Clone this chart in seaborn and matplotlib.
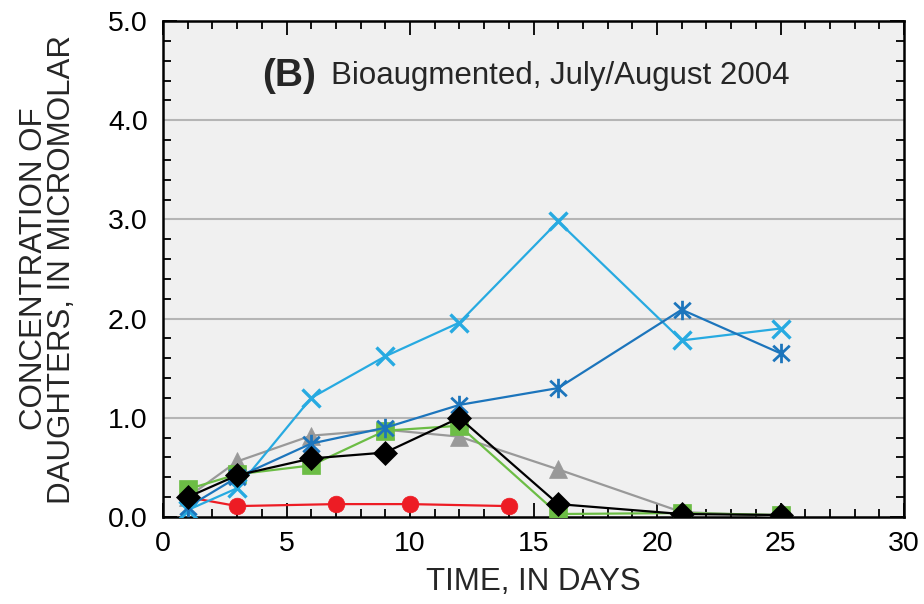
import numpy as np
import pandas as pd
import matplotlib
matplotlib.use("Agg")
import matplotlib.pyplot as plt
from matplotlib.path import Path
from matplotlib.ticker import MultipleLocator, FormatStrFormatter
import seaborn as sns

# Sampling days for each constituent
days_main = [1, 3, 6, 9, 12, 16, 21, 25]
days_red = [1, 3, 7, 10, 14]

# Concentrations, in micromolar
light_blue_x = [0.07, 0.29, 1.20, 1.62, 1.96, 2.98, 1.78, 1.90]
dark_blue_star = [0.10, 0.40, 0.74, 0.90, 1.13, 1.30, 2.09, 1.65]
gray_triangle = [0.20, 0.56, 0.82, 0.88, 0.81, 0.48, 0.05, 0.01]
green_square = [0.28, 0.43, 0.52, 0.87, 0.92, 0.03, 0.04, 0.02]
black_diamond = [0.20, 0.42, 0.59, 0.65, 1.00, 0.13, 0.03, 0.02]
red_circle = [0.20, 0.11, 0.13, 0.13, 0.11]

x_ticks = [0, 5, 10, 15, 20, 25, 30]
y_ticks = [0.0, 1.0, 2.0, 3.0, 4.0, 5.0]

sns.set_theme(style="ticks")
plt.rcParams["font.family"] = ["Liberation Sans", "DejaVu Sans"]

# Six-armed open asterisk marker
asterisk_marker = Path(
    [(0, -1), (0, 1), (-0.85, -0.8), (0.85, 0.8), (-0.85, 0.8), (0.85, -0.8)],
    [Path.MOVETO, Path.LINETO, Path.MOVETO, Path.LINETO, Path.MOVETO, Path.LINETO],
)

fig = plt.figure(figsize=(9.24, 6.04), dpi=100)
ax = fig.add_axes([163 / 924, 1 - 517 / 604, 741 / 924, 496 / 604])
ax.set_facecolor("#f0f0f0")

series = [
    (days_red, red_circle, "#ed1c24", "o", 12, "#ed1c24", 0.5),
    (days_main, gray_triangle, "#999999", "^", 13, "#999999", 0.5),
    (days_main, green_square, "#6cbd45", "s", 12.5, "#6cbd45", 0.5),
    (days_main, light_blue_x, "#27aae1", "x", 13.5, "none", 2.4),
    (days_main, dark_blue_star, "#1c75bc", asterisk_marker, 14, "none", 2.0),
    (days_main, black_diamond, "#000000", "D", 12, "#000000", 0.5),
]

for z, (xs, ys, color, marker, ms, face, mew) in enumerate(series):
    df = pd.DataFrame({"day": xs, "conc": ys})
    sns.lineplot(
        data=df, x="day", y="conc", ax=ax, color=color, lw=1.6,
        marker=marker, markersize=ms, markerfacecolor=face,
        markeredgecolor=color, markeredgewidth=mew,
        sort=False, zorder=3 + z,
    )

ax.set_xlim(0, 30)
ax.set_ylim(0, 5)
ax.set_xticks(x_ticks)
ax.set_yticks(y_ticks)
ax.xaxis.set_minor_locator(MultipleLocator(1))
ax.yaxis.set_minor_locator(MultipleLocator(0.2))
ax.yaxis.set_major_formatter(FormatStrFormatter("%.1f"))

for yv in [1, 2, 3, 4]:
    ax.axhline(yv, color="#b5b5b5", lw=1.5, zorder=1)

ax.tick_params(which="both", direction="in", top=True, right=True,
               colors="black", width=1.3, labelsize=20.5)
ax.tick_params(which="major", length=10)
ax.tick_params(which="minor", length=6)
ax.tick_params(axis="x", which="major", pad=10)
ax.tick_params(axis="y", which="major", pad=11)
for s in ax.spines.values():
    s.set_color("black")
    s.set_linewidth(1.8)

ax.set_xlabel("TIME, IN DAYS", fontsize=22.5, labelpad=7)
ax.set_ylabel("CONCENTRATION OF\nDAUGHTERS, IN MICROMOLAR", fontsize=22.5,
              labelpad=22, linespacing=0.95)

ax.text(4.0, 4.45, "(B)", fontsize=28, fontweight="bold", va="center", ha="left", zorder=10)
ax.text(6.8, 4.45, "Bioaugmented, July/August 2004", fontsize=22.5,
        va="center", ha="left", zorder=10)

fig.savefig("out.png", dpi=100)
